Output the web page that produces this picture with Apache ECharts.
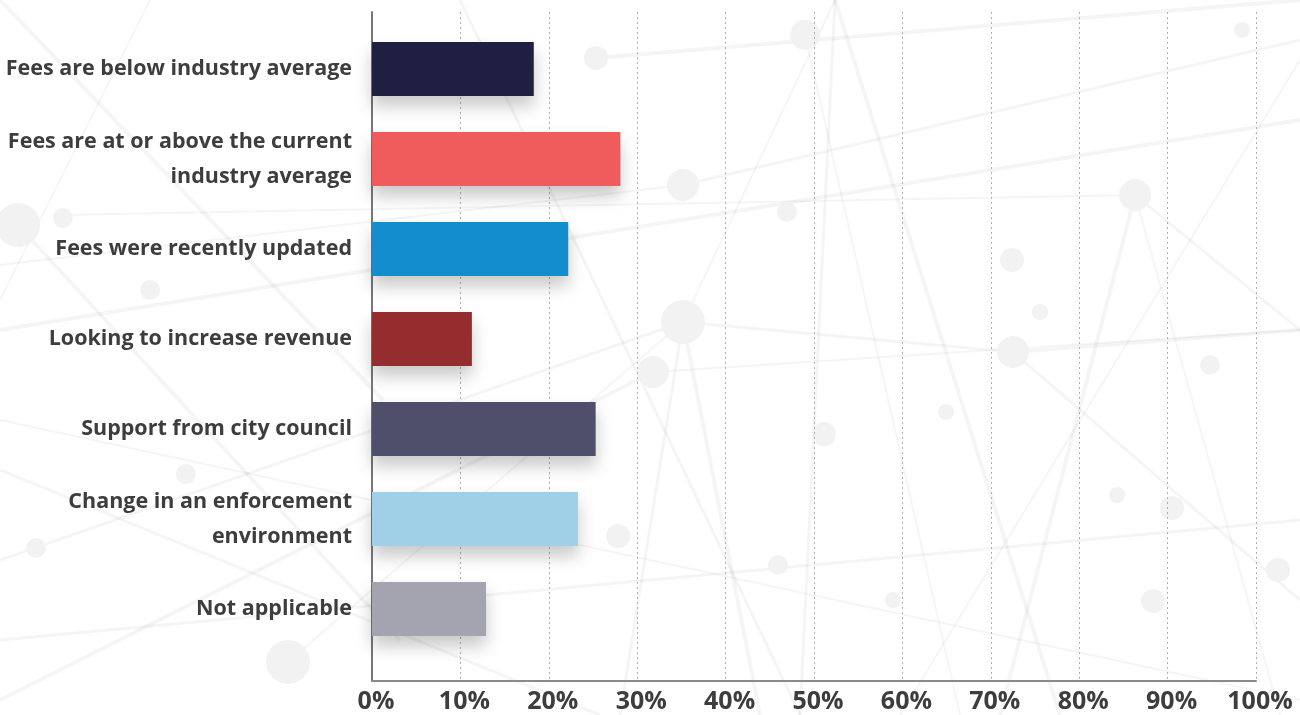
<!DOCTYPE html>
<html>
<head>
<meta charset="utf-8">
<script src="https://cdn.jsdelivr.net/npm/echarts@6/dist/echarts.min.js"></script>
<style>
  html, body { margin: 0; padding: 0; background: #ffffff; }
  #chart { width: 1300px; height: 715px; }
</style>
</head>
<body>
<div id="chart"></div>
<script>
// Reasons for fee changes, share of respondents
const categories = [
  'Fees are below industry average',
  'Fees are at or above the current\nindustry average',
  'Fees were recently updated',
  'Looking to increase revenue',
  'Support from city council',
  'Change in an enforcement\nenvironment',
  'Not applicable'
];
const shares = [18.3, 28.1, 22.2, 11.3, 25.3, 23.3, 12.9];
const barColors = ['#1f1f41', '#f05b5b', '#138dcd', '#952d2e', '#4f4f6b', '#9fd0e8', '#a4a3b0'];
const tickMin = 0;
const tickMax = 100;
const tickStep = 10;

// Faint network pattern drawn behind the plot
const netLines = [
  [0, 265, 683, 185], [683, 185, 1300, 40], [0, 330, 1300, 120], [60, 215, 1135, 195],
  [683, 322, 1013, 352], [1013, 352, 1300, 330], [653, 372, 1300, 330],
  [683, 322, 620, 715], [683, 322, 760, 715], [835, 0, 683, 322], [835, 0, 800, 715],
  [835, 0, 1060, 715], [805, 35, 960, 715], [0, 560, 683, 322], [18, 225, 400, 640],
  [288, 662, 683, 322], [1135, 195, 1300, 330], [1135, 195, 1000, 715], [1135, 195, 1280, 715],
  [460, 0, 800, 715], [0, 0, 383, 400], [0, 420, 1300, 700], [0, 640, 1300, 520],
  [653, 372, 0, 700], [1300, 60, 900, 715], [1013, 352, 1300, 600], [596, 58, 1300, 0],
  [150, 0, 0, 300], [0, 470, 600, 715]
];
const netDots = [
  [805, 35, 15], [683, 185, 16], [1135, 195, 16], [683, 322, 22], [1013, 352, 16],
  [653, 372, 16], [18, 225, 22], [288, 662, 22], [596, 58, 12], [787, 212, 10],
  [1012, 260, 12], [1040, 312, 8], [824, 434, 12], [946, 412, 8], [1210, 365, 10],
  [1117, 495, 8], [1172, 508, 12], [1278, 570, 12], [1153, 601, 12], [778, 565, 10],
  [618, 536, 12], [63, 218, 10], [150, 290, 10], [186, 474, 10], [36, 548, 10],
  [1242, 30, 8], [893, 600, 8]
];

const graphics = [];
netLines.forEach(function (l, i) {
  graphics.push({
    type: 'line', z: -100, silent: true,
    shape: { x1: l[0], y1: l[1], x2: l[2], y2: l[3] },
    style: { stroke: 'rgba(0,0,0,0.04)', lineWidth: 2 + (i % 3) }
  });
});
netDots.forEach(function (d) {
  graphics.push({
    type: 'circle', z: -100, silent: true,
    shape: { cx: d[0], cy: d[1], r: d[2] },
    style: { fill: '#f2f2f2' }
  });
});

const chart = echarts.init(document.getElementById('chart'));
chart.setOption({
  backgroundColor: '#ffffff',
  animation: false,
  graphic: { elements: graphics },
  grid: [
    { left: 372, right: 44, top: 12, bottom: 34, containLabel: false },
    { left: 372, right: 44, top: 24, bottom: 61, containLabel: false }
  ],
  xAxis: [
    {
      gridIndex: 0, type: 'value', min: tickMin, max: tickMax, interval: tickStep,
      axisLine: { show: true, lineStyle: { color: '#8a8a8a', width: 2 } },
      axisTick: { show: false },
      axisLabel: {
        formatter: '{value}%', color: '#3d3d3d', fontFamily: 'Open Sans',
        fontWeight: 'bold', fontSize: 25, margin: 8, padding: [0, 0, 0, 8]
      },
      splitLine: { show: true, lineStyle: { type: [2, 3], color: '#b0b0b0', width: 1 } }
    },
    {
      gridIndex: 1, type: 'value', min: tickMin, max: tickMax, show: false,
      splitLine: { show: false }
    }
  ],
  yAxis: [
    {
      gridIndex: 0, type: 'value', min: 0, max: 1,
      axisLine: { show: true, lineStyle: { color: '#777777', width: 2 } },
      axisTick: { show: false }, axisLabel: { show: false }, splitLine: { show: false }
    },
    {
      gridIndex: 1, type: 'category', data: categories, inverse: true,
      axisLine: { show: false }, axisTick: { show: false },
      axisLabel: {
        color: '#3d3d3d', fontFamily: 'Open Sans', fontWeight: 'bold',
        fontSize: 21.5, lineHeight: 35, margin: 20, align: 'right'
      }
    }
  ],
  series: [{
    type: 'bar',
    xAxisIndex: 1, yAxisIndex: 1,
    barWidth: '60%',
    data: shares.map(function (v, i) {
      return { value: v, itemStyle: { color: barColors[i] } };
    }),
    itemStyle: {
      shadowColor: 'rgba(0,0,0,0.22)', shadowBlur: 16, shadowOffsetY: 10
    }
  }]
});
</script>
</body>
</html>
